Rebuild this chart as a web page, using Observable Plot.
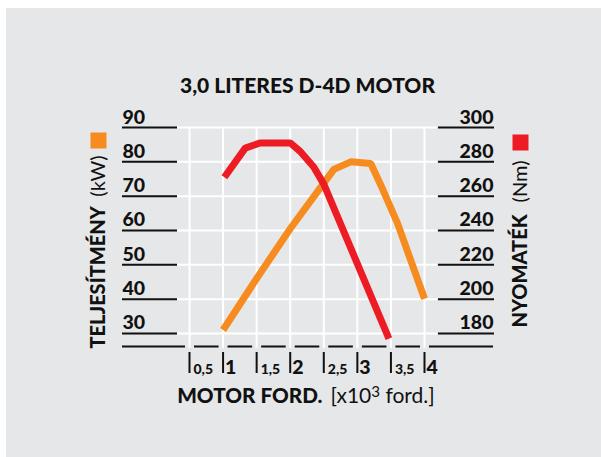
<!DOCTYPE html>
<html><head><meta charset="utf-8">
<script src="https://cdn.jsdelivr.net/npm/d3@7"></script>
<script src="https://cdn.jsdelivr.net/npm/@observablehq/plot@0.6"></script>
<style>
html,body{margin:0;padding:0;background:#fff;}
#wrap{position:relative;width:601px;height:457px;overflow:hidden;}
#bg{position:absolute;left:6px;top:8px;right:0;bottom:0;background:#e6e7e8;}
#chart{position:absolute;left:0;top:0;}
</style></head><body>
<div id="wrap"><div id="bg"></div><div id="chart"></div></div>
<script>
// ---- text ----
const title = "3,0 LITERES D-4D MOTOR";
const xTitleBold = "MOTOR FORD.";
const xTitleUnit = "[x10³ ford.]";
const leftTitleBold = "TELJESÍTMÉNY";
const leftTitleUnit = "(kW)";
const rightTitleBold = "NYOMATÉK";
const rightTitleUnit = "(Nm)";

// ---- ticks ----
const xTicks = [0.5, 1, 1.5, 2, 2.5, 3, 3.5, 4];
const xHalfValues = [0.5, 1.5, 2.5, 3.5];
const xHalfLabels = ["0,5", "1,5", "2,5", "3,5"];
const xIntValues = [1, 2, 3, 4];
const xIntLabels = ["1", "2", "3", "4"];
const kwTicks = [30, 40, 50, 60, 70, 80, 90];
const nmTicks = [180, 200, 220, 240, 260, 280, 300];

// ---- series ----
const powerRpm = [1.0, 1.5, 2.0, 2.65, 2.9, 3.2, 3.35, 3.6, 4.0];
const powerKw  = [31, 46, 60.5, 77.8, 80, 79.5, 73.2, 62, 40.1];
const torqueRpm = [1.02, 1.33, 1.55, 2.0, 2.15, 2.35, 2.5, 3.47];
const torqueNm  = [271, 288, 291, 291, 286, 277, 267, 177];

// ---- colours ----
const bg = "#e6e7e8";
const orange = "#f68b1f";
const red = "#ed1c24";
const ink = "#111";

const yMin = 26.2;
const nmToKw = d3.scaleLinear().domain([nmTicks[0], nmTicks[nmTicks.length-1]]).range([kwTicks[0], kwTicks[kwTicks.length-1]]);
const power = powerRpm.map((x, i) => ({x, y: powerKw[i]}));
const torque = torqueRpm.map((x, i) => ({x, y: nmToKw(torqueNm[i])}));
const halves = xHalfValues.map((v, i) => ({v, t: xHalfLabels[i]}));
const ints = xIntValues.map((v, i) => ({v, t: xIntLabels[i]}));
const leftLabels = kwTicks.map(v => ({v, t: String(v)}));
const rightLabels = kwTicks.map((v, i) => ({v, t: String(nmTicks[i])}));

const F = "Lato, 'Open Sans', sans-serif";
const W = 900;

const chart = Plot.plot({
  width: 601, height: 457,
  marginTop: 127, marginBottom: 111, marginLeft: 177, marginRight: 164,
  style: {background: "transparent", fontFamily: F, overflow: "visible", color: ink},
  x: {domain: [0.5, 4], insetLeft: 12, insetRight: 13, axis: null},
  y: {domain: [yMin, 90], axis: null},
  marks: [
    Plot.ruleY([yMin], {stroke: ink, strokeWidth: 2, insetLeft: -55, insetRight: -56}),
    Plot.ruleX(xTicks, {y1: yMin, y2: yMin, insetTop: -4, insetBottom: -4, stroke: bg, strokeWidth: 9}),
    Plot.gridY(kwTicks, {stroke: "#fff", strokeOpacity: 1, strokeWidth: 2}),
    Plot.gridX(xTicks, {stroke: "#fff", strokeOpacity: 1, strokeWidth: 2, insetBottom: -2}),
    Plot.axisY(kwTicks, {anchor: "left", tickSize: 55, tickPadding: 0, tickFormat: () => "", strokeWidth: 2, label: null, stroke: ink}),
    Plot.axisY(kwTicks, {anchor: "right", tickSize: 56, tickPadding: 0, tickFormat: () => "", strokeWidth: 2, label: null, stroke: ink}),
    Plot.text(leftLabels, {y: "v", text: "t", frameAnchor: "left", textAnchor: "start", lineAnchor: "bottom",
      dx: -55, dy: -4, fontSize: 19.5, fontWeight: W, fill: ink}),
    Plot.text(rightLabels, {y: "v", text: "t", frameAnchor: "right", textAnchor: "end", lineAnchor: "bottom",
      dx: 56, dy: -4, fontSize: 19.5, fontWeight: W, fill: ink}),
    Plot.ruleX(xTicks, {y1: yMin, y2: yMin, insetTop: 6, insetBottom: -27, stroke: ink, strokeWidth: 2}),
    Plot.text(halves, {x: "v", text: "t", frameAnchor: "bottom", lineAnchor: "bottom", textAnchor: "start",
      dx: 4, dy: 27, fontSize: 14, fontWeight: W, fill: ink}),
    Plot.text(ints, {x: "v", text: "t", frameAnchor: "bottom", lineAnchor: "bottom", textAnchor: "start",
      dx: 2, dy: 27, fontSize: 19.5, fontWeight: W, fill: ink}),
    Plot.line(power, {x: "x", y: "y", stroke: orange, strokeWidth: 7, strokeLinejoin: "miter", strokeLinecap: "butt"}),
    Plot.line(torque, {x: "x", y: "y", stroke: red, strokeWidth: 7, strokeLinejoin: "miter", strokeLinecap: "butt"}),
    Plot.text([title], {frameAnchor: "top", lineAnchor: "bottom", dy: -35, fontSize: 21, fontWeight: W, fill: ink}),
    Plot.text([xTitleBold], {frameAnchor: "bottom", lineAnchor: "bottom", textAnchor: "end", dx: 15, dy: 56, fontSize: 20.7, fontWeight: W, fill: ink}),
    Plot.text([xTitleUnit], {frameAnchor: "bottom", lineAnchor: "bottom", textAnchor: "start", dx: 23, dy: 56, fontSize: 21, fontWeight: "normal", fill: ink}),
    Plot.text([leftTitleBold], {frameAnchor: "bottom-left", rotate: -90, textAnchor: "start", lineAnchor: "middle", dx: -79, dy: 2, fontSize: 20, fontWeight: W, fill: ink}),
    Plot.text([leftTitleUnit], {frameAnchor: "bottom-left", rotate: -90, textAnchor: "end", lineAnchor: "middle", dx: -79, dy: -191, fontSize: 20, fontWeight: "normal", fill: ink}),
    Plot.text([rightTitleBold], {frameAnchor: "bottom-right", rotate: -90, textAnchor: "start", lineAnchor: "middle", dx: 83, dy: -19, fontSize: 20, fontWeight: W, fill: ink}),
    Plot.text([rightTitleUnit], {frameAnchor: "bottom-right", rotate: -90, textAnchor: "end", lineAnchor: "middle", dx: 83, dy: -186, fontSize: 20, fontWeight: "normal", fill: ink}),
    Plot.dot([0], {frameAnchor: "top-left", dx: -79, dy: 13, r: 9.03, symbol: "square", fill: orange, stroke: "none"}),
    Plot.dot([0], {frameAnchor: "top-right", dx: 83, dy: 15, r: 9.03, symbol: "square", fill: red, stroke: "none"})
  ]
});
// render the exponent of the unit as a raised, smaller "3" (still real text)
d3.select(chart).selectAll("text").filter(function() { return this.textContent === xTitleUnit; }).each(function() {
  const t = d3.select(this);
  const parts = xTitleUnit.split("³");
  t.text(null);
  t.append("tspan").text(parts[0]);
  t.append("tspan").attr("dy", "-0.35em").attr("font-size", "0.72em").text("3");
  t.append("tspan").attr("dy", "0.252em").text(parts[1]);
});
document.getElementById("chart").append(chart);
</script>
</body></html>
